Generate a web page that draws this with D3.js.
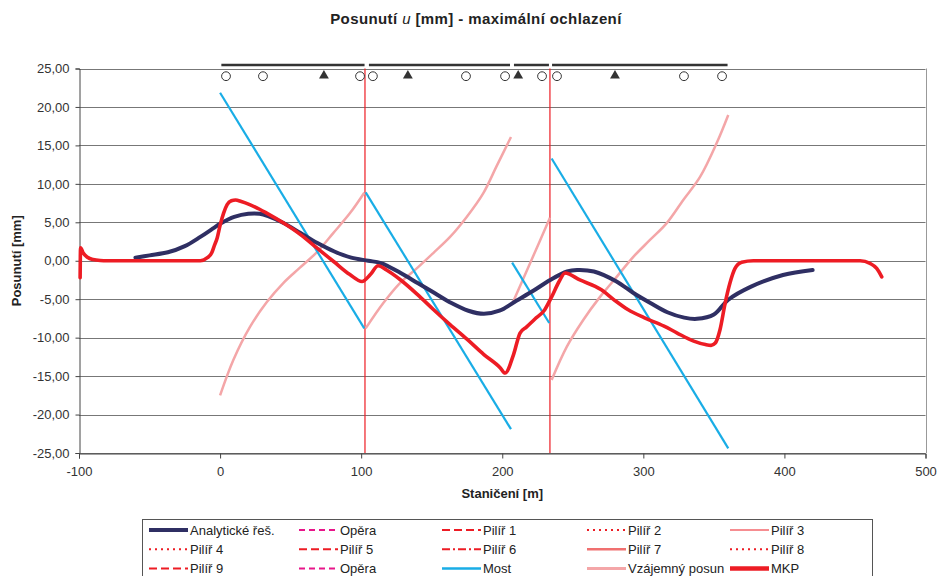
<!DOCTYPE html>
<html>
<head>
<meta charset="utf-8">
<script src="https://cdn.jsdelivr.net/npm/d3@7/dist/d3.min.js"></script>
<style>
body { margin: 0; background: #fff; }
svg { font-family: "Liberation Sans", Arial, sans-serif; }
</style>
</head>
<body>
<div class="chart"></div>
<script>

// analytical solution
var analytX = [-60, -50, -37, -25, -14, -5, 0, 5, 10, 20, 28, 34, 45, 57, 69, 81, 93, 105, 114, 128, 140, 152, 164, 176, 187, 198, 210, 222, 234, 246, 253, 265, 281, 293, 305, 317, 329, 338, 350, 360, 376, 399, 420];
var analytY = [0.4, 0.7, 1.1, 1.9, 3.1, 4.2, 4.8, 5.3, 5.7, 6.1, 6.1, 5.8, 4.9, 3.6, 2.3, 1.2, 0.4, 0.0, -0.3, -1.6, -2.9, -4.2, -5.5, -6.5, -6.9, -6.5, -5.2, -3.9, -2.5, -1.4, -1.2, -1.4, -2.7, -4.2, -5.5, -6.7, -7.4, -7.55, -7.0, -5.1, -3.4, -1.85, -1.2];

// MKP (FEM)
var mkpX = [-99.2, -98.9, -97, -94, -90, -85, -80, -60, -40, -20, -14, -9, -6, -4, -2, 0, 2.5, 5, 8, 11, 15, 21, 28, 33, 45, 57, 69, 80.5, 92, 100.6, 106.5, 112, 118, 128, 140, 151, 163, 175, 187, 198.5, 202, 208, 212.6, 217.3, 223, 230, 235, 240.3, 244.5, 255, 270, 279, 289, 300.5, 314.7, 324, 335.7, 344, 348, 351, 354.3, 358, 361.4, 365, 369.7, 378, 400, 430, 453.6, 460.7, 465.4, 469];
var mkpY = [-2.2, 1.7, 1.0, 0.45, 0.15, 0.03, 0, 0, 0, 0, 0.0, 0.4, 1.0, 2.0, 3.0, 4.6, 6.2, 7.3, 7.8, 7.9, 7.7, 7.3, 6.7, 6.2, 4.9, 3.4, 1.6, -0.1, -1.8, -2.7, -1.8, -0.65, -1.2, -2.5, -4.4, -6.3, -8.3, -10.2, -12.2, -13.9, -14.6, -12.2, -9.4, -8.6, -7.6, -6.4, -4.7, -2.7, -1.6, -2.5, -3.75, -5.05, -6.35, -7.4, -8.5, -9.4, -10.45, -10.9, -11.0, -10.7, -9.0, -5.5, -2.9, -1.0, -0.2, 0, 0, 0, 0, -0.35, -1.0, -2.1];

// Most - one segment per deck
var mostX = [[0, 102.2], [103.2, 206.2], [207, 233.3], [235, 360.2]];
var mostY = [[21.85, -8.8], [8.9, -21.9], [-0.25, -8.1], [13.3, -24.4]];

// Vzajemny posun
var relX = [
    [0, 9.4, 21.2, 33, 44.8, 56.6, 68.5, 80.2, 92.1, 102.2],
    [103.2, 115.7, 127.5, 139.4, 151.1, 163, 174.8, 186.6, 196, 206.2],
    [207.4, 220.5, 233.8],
    [235, 245.7, 257.4, 269.3, 281.1, 292.9, 304.7, 316.6, 328.3, 340.2, 352, 360.2]
];
var relY = [
    [-17.5, -12.9, -8.6, -5.4, -2.9, -0.9, 1.1, 3.6, 6.2, 8.85],
    [-8.8, -5.5, -2.9, -1.0, 1.0, 3.1, 5.7, 8.8, 12.3, 16.1],
    [-5.45, 0.0, 5.6],
    [-15.5, -11.2, -7.7, -4.7, -2.1, 0.5, 2.7, 4.9, 7.9, 10.9, 15.3, 18.95]
];

// bridge scheme on top
var deckStart = [0.9, 105.5, 208.3, 235.3];
var deckEnd = [102.4, 205.5, 233.1, 359.7];
var deckLevel = 25.45;
var bearingFree = [4.2, 30.4, 99.2, 108.3, 174.3, 202, 228.2, 238.8, 328.8, 355.8];
var bearingFixed = [73.6, 133.1, 211.3, 279.9];
var bearingLevel = 24;
var pierX = [102.7, 233.8];

var xTicks = [-100, 0, 100, 200, 300, 400, 500];
var yTicks = [-25, -20, -15, -10, -5, 0, 5, 10, 15, 20, 25];

var legendNames = ["Analytické řeš.", "Opěra", "Pilíř 1", "Pilíř 2", "Pilíř 3",
                   "Pilíř 4", "Pilíř 5", "Pilíř 6", "Pilíř 7", "Pilíř 8",
                   "Pilíř 9", "Opěra", "Most", "Vzájemný posun", "MKP"];

var width = 938;
var height = 576;

var navy = "#2f2f63", red = "#ed1c24", blue = "#19ade6", pink = "#f4a6a8", magenta = "#e8168a";

var locale = d3.formatLocale({decimal: ",", thousands: " ", grouping: [3], currency: ["", ""], minus: "-"});
var fmtY = locale.format(".2f");
var fmtX = locale.format("d");

var svg = d3.select(".chart").append("svg")
    .attr("width", width)
    .attr("height", height);

var x = d3.scaleLinear().domain([-100, 500]).range([79, 925.5]);
var y = d3.scaleLinear().domain([-25, 25]).range([453, 68.5]);

// title
var title = svg.append("text")
    .attr("x", 476)
    .attr("y", 24)
    .attr("text-anchor", "middle")
    .style("font-size", "15px")
    .style("letter-spacing", "0.4px")
    .style("font-weight", "bold")
    .style("fill", "#222");
title.append("tspan").text("Posunutí ");
title.append("tspan").style("font-style", "italic").style("font-weight", "normal").text("u");
title.append("tspan").text("  [mm] - maximální ochlazení");

// gridlines
svg.append("g")
    .selectAll("line")
    .data(yTicks)
    .enter().append("line")
    .attr("x1", x(-100))
    .attr("x2", x(500))
    .attr("y1", function(d) { return Math.round(y(d)) + 0.5; })
    .attr("y2", function(d) { return Math.round(y(d)) + 0.5; })
    .attr("stroke", "#777")
    .attr("stroke-width", 1);

svg.append("line")
    .attr("x1", Math.round(x(500)) + 0.5).attr("x2", Math.round(x(500)) + 0.5)
    .attr("y1", y(25)).attr("y2", y(-25))
    .attr("stroke", "#999");

// axes
var yAxis = d3.axisLeft(y).tickValues(yTicks).tickSize(4).tickPadding(6).tickFormat(fmtY);
var xAxis = d3.axisBottom(x).tickValues(xTicks).tickSize(5).tickPadding(8).tickFormat(fmtX);

var gy = svg.append("g")
    .attr("transform", "translate(" + (Math.round(x(-100)) + 0.5) + ",0)")
    .call(yAxis);
var gx = svg.append("g")
    .attr("transform", "translate(0," + (Math.round(y(-25)) + 0.5) + ")")
    .call(xAxis);

[gx, gy].forEach(function(g) {
    g.select(".domain").attr("stroke", "#444");
    g.selectAll(".tick line").attr("stroke", "#444");
    g.selectAll("text").style("font-size", "13px").style("fill", "#333").style("font-family", "Liberation Sans, Arial, sans-serif");
});

svg.append("text")
    .attr("x", (x(-100) + x(500)) / 2)
    .attr("y", 498)
    .attr("text-anchor", "middle")
    .style("font-size", "13px")
    .style("font-weight", "bold")
    .style("fill", "#222")
    .text("Staničení [m]");

svg.append("text")
    .attr("transform", "translate(21," + ((y(25) + y(-25)) / 2) + ") rotate(-90)")
    .attr("text-anchor", "middle")
    .style("font-size", "13px")
    .style("font-weight", "bold")
    .style("fill", "#222")
    .text("Posunutí [mm]");

// pier lines
svg.append("g")
    .selectAll("line")
    .data(pierX)
    .enter().append("line")
    .attr("x1", function(d) { return x(d); })
    .attr("x2", function(d) { return x(d); })
    .attr("y1", y(25))
    .attr("y2", y(-25))
    .attr("stroke", red)
    .attr("stroke-width", 1.2);

function pts(xs, ys) {
    return xs.map(function(d, i) { return [d, ys[i]]; });
}

var line = d3.line()
    .x(function(d) { return x(d[0]); })
    .y(function(d) { return y(d[1]); })
    .curve(d3.curveMonotoneX);

var smooth = d3.line()
    .x(function(d) { return x(d[0]); })
    .y(function(d) { return y(d[1]); })
    .curve(d3.curveCatmullRom.alpha(0.5));

var straight = d3.line()
    .x(function(d) { return x(d[0]); })
    .y(function(d) { return y(d[1]); });

// Vzajemny posun
svg.append("g")
    .selectAll("path")
    .data(relX.map(function(xs, i) { return pts(xs, relY[i]); }))
    .enter().append("path")
    .attr("d", smooth)
    .attr("fill", "none")
    .attr("stroke", pink)
    .attr("stroke-width", 2.5);

// Most
svg.append("g")
    .selectAll("path")
    .data(mostX.map(function(xs, i) { return pts(xs, mostY[i]); }))
    .enter().append("path")
    .attr("d", straight)
    .attr("fill", "none")
    .attr("stroke", blue)
    .attr("stroke-width", 2.2);

// analyticke reseni
svg.append("path")
    .datum(pts(analytX, analytY))
    .attr("d", smooth)
    .attr("fill", "none")
    .attr("stroke", navy)
    .attr("stroke-width", 4)
    .attr("stroke-linecap", "round");

// MKP
svg.append("path")
    .datum(pts(mkpX, mkpY))
    .attr("d", line)
    .attr("fill", "none")
    .attr("stroke", red)
    .attr("stroke-width", 3.6)
    .attr("stroke-linejoin", "round")
    .attr("stroke-linecap", "round");

// bridge scheme
svg.append("g")
    .selectAll("line")
    .data(deckStart)
    .enter().append("line")
    .attr("x1", function(d) { return x(d); })
    .attr("x2", function(d, i) { return x(deckEnd[i]); })
    .attr("y1", y(deckLevel))
    .attr("y2", y(deckLevel))
    .attr("stroke", "#333")
    .attr("stroke-width", 2.6);

svg.append("g")
    .selectAll("circle")
    .data(bearingFree)
    .enter().append("circle")
    .attr("cx", function(d) { return x(d); })
    .attr("cy", y(bearingLevel))
    .attr("r", 4.4)
    .attr("fill", "#fff")
    .attr("stroke", "#333")
    .attr("stroke-width", 1);

svg.append("g")
    .selectAll("path")
    .data(bearingFixed)
    .enter().append("path")
    .attr("d", d3.symbol(d3.symbolTriangle).size(42))
    .attr("transform", function(d) { return "translate(" + x(d) + "," + (y(bearingLevel) - 0.5) + ")"; })
    .attr("fill", "#333");

// legend
var legendStyle = [
    {c: navy, w: 4, dash: null},
    {c: magenta, w: 2, dash: "6,4"},
    {c: red, w: 2, dash: "8,4"},
    {c: red, w: 2, dash: "2,4"},
    {c: red, w: 1.2, dash: null},
    {c: red, w: 2, dash: "2,4"},
    {c: red, w: 2, dash: "8,4"},
    {c: red, w: 2, dash: "8,3,2,3"},
    {c: "#f07070", w: 2.5, dash: null},
    {c: red, w: 2, dash: "2,4"},
    {c: red, w: 2, dash: "8,4"},
    {c: magenta, w: 2, dash: "6,4"},
    {c: blue, w: 2.5, dash: null},
    {c: pink, w: 3, dash: null},
    {c: red, w: 4.5, dash: null}
];
var legendCol = [190, 340, 483, 628, 771];

var legend = svg.append("g");
legend.append("rect")
    .attr("x", 142.5)
    .attr("y", 519.5)
    .attr("width", 730)
    .attr("height", 70)
    .attr("fill", "#fff")
    .attr("stroke", "#555");

var item = legend.selectAll("g.item")
    .data(legendNames)
    .enter().append("g")
    .attr("transform", function(d, i) {
        return "translate(" + legendCol[i % 5] + "," + (530 + Math.floor(i / 5) * 19.3) + ")";
    });

item.append("line")
    .attr("x1", -41).attr("x2", -2)
    .attr("y1", 0).attr("y2", 0)
    .attr("stroke", function(d, i) { return legendStyle[i].c; })
    .attr("stroke-width", function(d, i) { return legendStyle[i].w; })
    .attr("stroke-dasharray", function(d, i) { return legendStyle[i].dash; });

item.append("text")
    .attr("x", 0)
    .attr("y", 4.5)
    .style("font-size", "13px")
    .style("fill", "#222")
    .text(function(d) { return d; });

</script>
</body>
</html>
